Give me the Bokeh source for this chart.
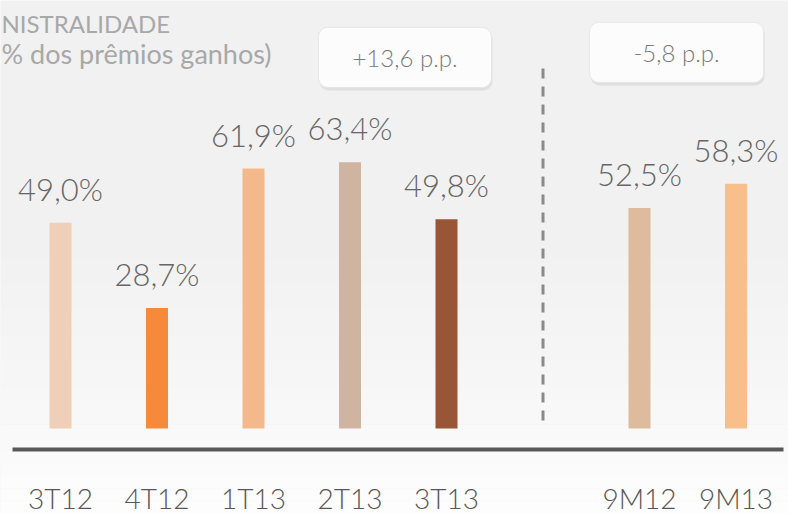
from bokeh.plotting import figure
from bokeh.embed import file_html
from bokeh.resources import INLINE
from bokeh.core.properties import value
from bokeh.models import ColumnDataSource

# ---- data ----
categories = ["3T12", "4T12", "1T13", "2T13", "3T13", "9M12", "9M13"]
slots = [0, 1, 2, 3, 4, 6, 7]
values = [49.0, 28.7, 61.9, 63.4, 49.8, 52.5, 58.3]
value_labels = ["49,0%", "28,7%", "61,9%", "63,4%", "49,8%", "52,5%", "58,3%"]
colors = ["#efcfb8", "#f58a3a", "#f4b98a", "#cfb4a2", "#995637", "#dfbb9e", "#f8bf8b"]
title_lines = ["NISTRALIDADE", "% dos prêmios ganhos)"]
delta_labels = ["+13,6 p.p.", "-5,8 p.p."]
divider_slot = 5

W, H = 788, 514
X0, X1 = -0.6218, 7.544
Y0, Y1 = -20.476, 101.9
px_x = (X1 - X0) / W
px_y = (Y1 - Y0) / H

p = figure(width=W, height=H, x_range=(X0, X1), y_range=(Y0, Y1),
           output_backend="svg", toolbar_location=None,
           min_border=0, min_border_left=0, min_border_right=0,
           min_border_top=0, min_border_bottom=0)
p.title.visible = False
p.axis.visible = False
p.grid.visible = False
p.outline_line_color = None
p.background_fill_color = "#f1f1f1"
p.border_fill_color = "#f1f1f1"

# background gradient (style only)
n = 40
bt, bb, bl, br, bc = [], [], [], [], []
for i in range(n):
    y_lo = Y0 + (Y1 - Y0) * i / n
    y_hi = Y0 + (Y1 - Y0) * (i + 1) / n
    frac = i / (n - 1)  # 0 bottom, 1 top
    t = max(0.0, min(1.0, (0.55 - frac) / 0.55))
    g = int(round(241 + 12 * t ** 1.3))
    bt.append(y_hi + 0.01); bb.append(y_lo); bl.append(X0); br.append(X1)
    bc.append("#%02x%02x%02x" % (g, g, g))
p.quad(left=bl, right=br, top=bt, bottom=bb, fill_color=bc, line_color=None)

# title
font_light = value("Lato Light")
p.text(x=[X0 + 1 * px_x], y=[96.4], text=[title_lines[0]], text_font=value("Lato"),
       text_font_size="24px", text_color="#a8a8a8", text_baseline="middle")
p.text(x=[X0 + 1 * px_x], y=[89.4], text=[title_lines[1]], text_font=value("Lato"),
       text_font_size="27px", text_color="#a8a8a8", text_baseline="middle")

# delta boxes
box_l = [2.674, 5.482]
box_r = [4.466, 7.285]
box_t = [95.5, 96.7]
box_b = [81.2, 82.4]
p.quad(left=[l + 1 * px_x for l in box_l], right=[r + 1 * px_x for r in box_r],
       top=[t - 2 * px_y for t in box_t], bottom=[b - 3 * px_y for b in box_b],
       fill_color="#d4d4d4", fill_alpha=0.6, line_color=None, border_radius=9)
p.quad(left=box_l, right=box_r, top=box_t, bottom=box_b,
       fill_color="#fcfcfc", line_color="#e6e6e6", line_width=1, border_radius=9)
p.text(x=[(l + r) / 2 for l, r in zip(box_l, box_r)],
       y=[(t + b) / 2 for t, b in zip(box_t, box_b)],
       text=delta_labels, text_font=font_light, text_font_size="24px",
       text_color="#7a7a7a", text_align="center", text_baseline="middle")

# divider
p.segment(x0=[divider_slot], x1=[divider_slot], y0=[85.7], y1=[0.5],
          line_color="#8a8a8a", line_width=3, line_dash="10 8")

# bars
src = ColumnDataSource(dict(x=slots, top=values, color=colors, label=value_labels,
                            cat=categories,
                            ly=[v + 34 * px_y for v in values]))
p.vbar(x="x", top="top", bottom=0, width=22 * px_x, fill_color="color",
       line_color=None, source=src)
p.text(x="x", y="ly", text="label", source=src, text_font=font_light,
       text_font_size="31px", text_color="#666666", text_align="center",
       text_baseline="middle")

# baseline
p.segment(x0=[X0 + 12 * px_x], x1=[X0 + 783 * px_x], y0=[-5.0], y1=[-5.0],
          line_color="#585858", line_width=4)

# category labels
p.text(x="x", y=-16.55, text="cat", source=src, text_font=font_light,
       text_font_size="28px", text_color="#575757", text_align="center",
       text_baseline="middle")

open("out.html", "w").write(file_html(p, INLINE))
